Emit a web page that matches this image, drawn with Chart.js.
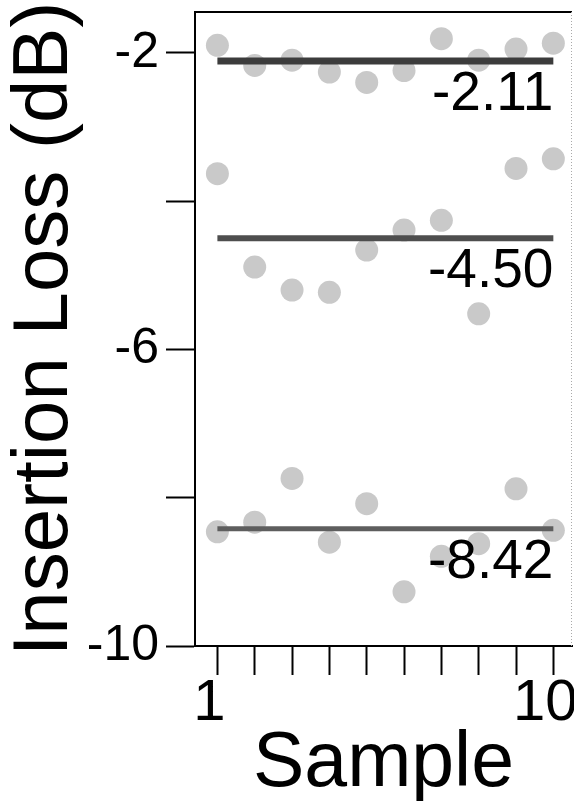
<!DOCTYPE html>
<html>
<head>
<meta charset="utf-8">
<script src="https://cdn.jsdelivr.net/npm/chart.js@4/dist/chart.umd.min.js"></script>
<style>
  html, body { margin: 0; padding: 0; background: #fff; }
  canvas { display: block; }
</style>
</head>
<body>
<canvas id="chart" width="574" height="801"></canvas>
<script>
const FONT = '"Liberation Sans", Arial, Helvetica, sans-serif';

// sample numbers on the x axis
const samples = [1, 2, 3, 4, 5, 6, 7, 8, 9, 10];
const xTickLabels = ['1', '', '', '', '', '', '', '', '', '10'];

// y ticks and their labels
const yTicks = [-10, -8, -6, -4, -2];
const yTickLabels = ['-10', '', '-6', '', '-2'];

// measured insertion loss (dB) for the three groups of samples
const lossHigh = [-1.90, -2.17, -2.10, -2.26, -2.40, -2.24, -1.81, -2.10, -1.95, -1.87];
const lossMid  = [-3.63, -4.89, -5.20, -5.23, -4.66, -4.39, -4.26, -5.52, -3.56, -3.43];
const lossLow  = [-8.46, -8.33, -7.74, -8.60, -8.08, -9.27, -8.79, -8.62, -7.88, -8.44];

// average of each group
const meanLoss = [-2.11, -4.50, -8.42];

const toPoints = arr => arr.map((v, i) => ({ x: samples[i], y: v }));
const meanLine = v => [{ x: samples[0], y: v }, { x: samples[samples.length - 1], y: v }];

const lineColors = ['#3c3c3c', '#4e4e4e', '#5e5e5e'];
const lineWidths = [7, 6, 5];

const datasets = [];
meanLoss.forEach((m, i) => {
  datasets.push({
    type: 'line',
    data: meanLine(m),
    borderColor: lineColors[i],
    borderWidth: lineWidths[i],
    pointRadius: 0,
    order: 0
  });
});
[lossHigh, lossMid, lossLow].forEach(arr => {
  datasets.push({
    type: 'scatter',
    data: toPoints(arr),
    backgroundColor: '#c9c9c9',
    borderWidth: 0,
    pointRadius: 11.5,
    order: 1
  });
});

// top/right frame and the mean value labels
const extras = {
  id: 'extras',
  afterDatasetsDraw(chart) {
    const { ctx, chartArea: a, scales: { x, y } } = chart;
    ctx.save();
    ctx.font = '55px ' + FONT;
    ctx.fillStyle = '#000';
    ctx.textAlign = 'right';
    ctx.textBaseline = 'alphabetic';
    meanLoss.forEach(m => {
      ctx.fillText(m.toFixed(2), x.getPixelForValue(10), y.getPixelForValue(m) + 49);
    });

    ctx.strokeStyle = '#000';
    ctx.lineWidth = 2;
    ctx.beginPath();
    ctx.moveTo(a.left, a.top);
    ctx.lineTo(a.right, a.top);
    ctx.stroke();

    ctx.strokeStyle = '#aaa';
    ctx.lineWidth = 1;
    ctx.setLineDash([1, 2]);
    ctx.beginPath();
    ctx.moveTo(a.right - 0.5, a.top);
    ctx.lineTo(a.right - 0.5, a.bottom);
    ctx.stroke();
    ctx.restore();
  }
};

new Chart(document.getElementById('chart'), {
  data: { datasets },
  plugins: [extras],
  options: {
    responsive: false,
    animation: false,
    events: [],
    layout: { autoPadding: false, padding: { top: 12, right: 2, left: 0, bottom: 0 } },
    plugins: { legend: { display: false }, tooltip: { enabled: false } },
    scales: {
      x: {
        type: 'linear',
        min: 0.4,
        max: 10.5,
        afterBuildTicks: s => { s.ticks = samples.map(v => ({ value: v })); },
        afterFit: s => { s.height = 155; s.paddingLeft = 0; s.paddingRight = 0; },
        ticks: {
          callback: (v, i) => xTickLabels[i],
          font: { family: FONT, size: 58, lineHeight: 1 },
          color: '#000',
          padding: 0,
          labelOffset: -8,
          maxRotation: 0,
          autoSkip: false
        },
        grid: { drawOnChartArea: false, drawTicks: true, tickLength: 29, tickWidth: 2, tickColor: '#000' },
        border: { display: true, color: '#000', width: 2 },
        title: {
          display: true,
          text: 'Sample',
          color: '#000',
          font: { family: FONT, size: 77, lineHeight: 0.9 },
          padding: { top: 0, bottom: 2 }
        }
      },
      y: {
        type: 'linear',
        min: -10,
        max: -1.45,
        afterBuildTicks: s => { s.ticks = yTicks.map(v => ({ value: v })); },
        afterFit: s => { s.width = 195; s.paddingTop = 0; s.paddingBottom = 0; },
        ticks: {
          callback: (v, i) => yTickLabels[i],
          font: { family: FONT, size: 50 },
          color: '#000',
          padding: 7,
          autoSkip: false
        },
        grid: { drawOnChartArea: false, drawTicks: true, tickLength: 29, tickWidth: 2, tickColor: '#000' },
        border: { display: true, color: '#000', width: 2 },
        title: {
          display: true,
          text: 'Insertion Loss (dB)',
          color: '#000',
          font: { family: FONT, size: 78, lineHeight: 1 },
          padding: { top: 6, bottom: 0 }
        }
      }
    }
  }
});
</script>
</body>
</html>
